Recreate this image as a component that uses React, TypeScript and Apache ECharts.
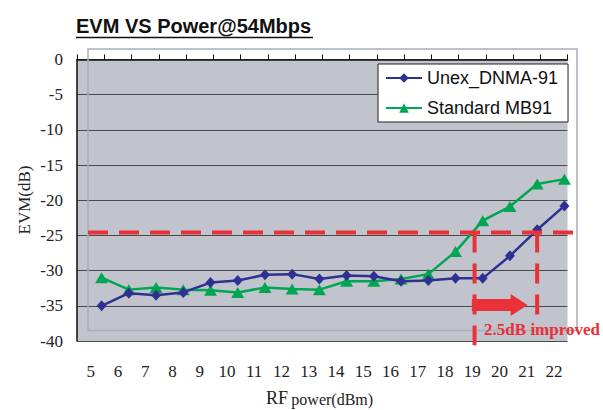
import React, { useEffect, useRef } from "react";
import * as echarts from "echarts";

const CATEGORIES = ["5","6","7","8","9","10","11","12","13","14","15","16","17","18","19","20","21","22"];
const UNEX = [-35.0, -33.2, -33.5, -33.1, -31.7, -31.4, -30.6, -30.5, -31.2, -30.7, -30.8, -31.5, -31.4, -31.1, -31.1, -27.9, -24.2, -20.8];
const STANDARD = [-31.0, -32.7, -32.4, -32.7, -32.8, -33.1, -32.4, -32.6, -32.7, -31.5, -31.5, -31.2, -30.5, -27.3, -22.9, -20.9, -17.7, -17.0];
const Y_TICKS = { min: -40, max: 0, interval: 5 };
const THRESHOLD = -24.6;
const LEFT_MARK = 18.7;
const RIGHT_MARK = 21.0;
const LEFT_MARK_BOTTOM = -40.6;
const RIGHT_MARK_BOTTOM = -36.3;
const ARROW = { from: 18.6, to: 20.65, y: -34.9 };
const NOTE = { text: "2.5dB improved", x: 19.05, y: -38.4 };

const SERIF = "'Liberation Serif', 'Times New Roman', serif";
const SANS = "'Liberation Sans', Arial, sans-serif";
const RED = "#ea3038";

export default function App() {
  const ref = useRef<HTMLDivElement>(null);
  useEffect(() => {
    if (!ref.current) return;
    const chart = echarts.init(ref.current, undefined, { renderer: "svg" });
    const gridBase = { left: 77, right: 35.5, top: 59.5, bottom: 69 };
    chart.setOption({
      animation: false,
      backgroundColor: "#ffffff",
      grid: [
        { ...gridBase, show: true, backgroundColor: "#c1c4cc", borderWidth: 0 },
        { left: 88, right: 25, top: 59.5, bottom: 69 },
      ],
      xAxis: [
        {
          type: "category", gridIndex: 0, data: CATEGORIES, boundaryGap: true,
          axisLine: { lineStyle: { color: "#111", width: 1.5 } },
          axisTick: { show: true, inside: true, length: 5, interval: 0, lineStyle: { color: "#111", width: 1 } },
          axisLabel: { interval: 0, margin: 22, color: "#222", fontSize: 17, fontFamily: SERIF },
          splitLine: { show: false },
        },
        { type: "category", gridIndex: 1, data: CATEGORIES, boundaryGap: true, show: false },
        { type: "value", gridIndex: 1, min: 4.5, max: 22.5, show: false },
      ],
      yAxis: [
        {
          type: "value", gridIndex: 0, min: Y_TICKS.min, max: Y_TICKS.max, interval: Y_TICKS.interval,
          axisLine: { show: true, lineStyle: { color: "#111", width: 1.5 } },
          axisTick: { show: false },
          axisLabel: { margin: 14, color: "#222", fontSize: 17, fontFamily: SERIF },
          splitLine: { show: true, lineStyle: { color: "#4a4a4a", width: 1.2 } },
        },
        { type: "value", gridIndex: 1, min: Y_TICKS.min, max: Y_TICKS.max, show: false },
      ],
      legend: {
        orient: "vertical", left: 378, top: 64,
        backgroundColor: "#ffffff", borderColor: "#222", borderWidth: 1,
        padding: [5, 10, 5, 7], itemWidth: 36, itemHeight: 12, itemGap: 12,
        textStyle: { fontSize: 18, fontFamily: SANS, color: "#111" },
        data: ["Unex_DNMA-91", "Standard MB91"],
      },
      series: [
        {
          name: "Unex_DNMA-91", type: "line", xAxisIndex: 1, yAxisIndex: 1, data: UNEX,
          symbol: "diamond", symbolSize: [10, 11],
          lineStyle: { color: "#2e3192", width: 2.5 }, itemStyle: { color: "#2e3192" }, z: 3,
        },
        {
          name: "Standard MB91", type: "line", xAxisIndex: 1, yAxisIndex: 1, data: STANDARD,
          symbol: "triangle", symbolSize: [13, 11],
          lineStyle: { color: "#00a651", width: 2.5 }, itemStyle: { color: "#00a651" }, z: 2,
        },
      ],
    });

    const px = (x: number) => chart.convertToPixel({ xAxisIndex: 2 }, x) as number;
    const py = (y: number) => chart.convertToPixel({ yAxisIndex: 1 }, y) as number;
    const dash = { stroke: RED, lineWidth: 4, lineDash: [20, 11] };
    const x0 = px(4.5), x1 = px(22.5);
    const ty = py(THRESHOLD);
    const ax0 = px(ARROW.from), ax1 = px(ARROW.to), ay = py(ARROW.y);
    const head = 17;

    chart.setOption({
      graphic: [
        {
          type: "rect", z: 1, silent: true,
          shape: { x: x0, y: py(0) - 10.5, width: x1 - x0 - 1, height: py(-40) - py(0) },
          style: { fill: "none", stroke: "#a8b0b8", lineWidth: 1.5 },
        },
        { type: "line", z: 10, shape: { x1: x0, y1: ty, x2: x1, y2: ty }, style: dash },
        { type: "line", z: 10, shape: { x1: px(LEFT_MARK), y1: ty, x2: px(LEFT_MARK), y2: py(LEFT_MARK_BOTTOM) }, style: dash },
        { type: "line", z: 10, shape: { x1: px(RIGHT_MARK), y1: ty, x2: px(RIGHT_MARK), y2: py(RIGHT_MARK_BOTTOM) }, style: dash },
        {
          type: "polygon", z: 10,
          shape: {
            points: [
              [ax0, ay - 6], [ax1 - head, ay - 6], [ax1 - head, ay - 11], [ax1, ay],
              [ax1 - head, ay + 11], [ax1 - head, ay + 6], [ax0, ay + 6],
            ],
          },
          style: { fill: RED },
        },
        {
          type: "text", z: 10, x: px(NOTE.x), y: py(NOTE.y),
          style: { text: NOTE.text, fill: RED, font: `bold 17px ${SERIF}`, textAlign: "left", textVerticalAlign: "middle" },
        },
        {
          type: "text", z: 10, x: 76, y: 36,
          style: { text: "EVM VS Power@54Mbps", fill: "#111", font: `bold 20px ${SANS}`, textAlign: "left", textVerticalAlign: "bottom" },
        },
        { type: "line", z: 10, shape: { x1: 76, y1: 37.5, x2: 313, y2: 37.5 }, style: { stroke: "#111", lineWidth: 1.5 } },
        {
          type: "text", z: 10, x: 24, y: 200, rotation: Math.PI / 2,
          style: { text: "EVM(dB)", fill: "#222", font: `17px ${SERIF}`, textAlign: "center", textVerticalAlign: "middle" },
        },
        {
          type: "text", z: 10, x: 266, y: 398,
          style: {
            text: "{a|RF} {b|power(dBm)}", textAlign: "left", textVerticalAlign: "middle",
            rich: {
              a: { fontSize: 18, fontFamily: SERIF, fill: "#222" },
              b: { fontSize: 16, fontFamily: SERIF, fill: "#222", padding: [3, 0, 0, 0] },
            },
          },
        },
      ],
    });
    return () => chart.dispose();
  }, []);
  return <div ref={ref} style={{ position: "fixed", left: 0, top: 0, width: 603, height: 410 }} />;
}
